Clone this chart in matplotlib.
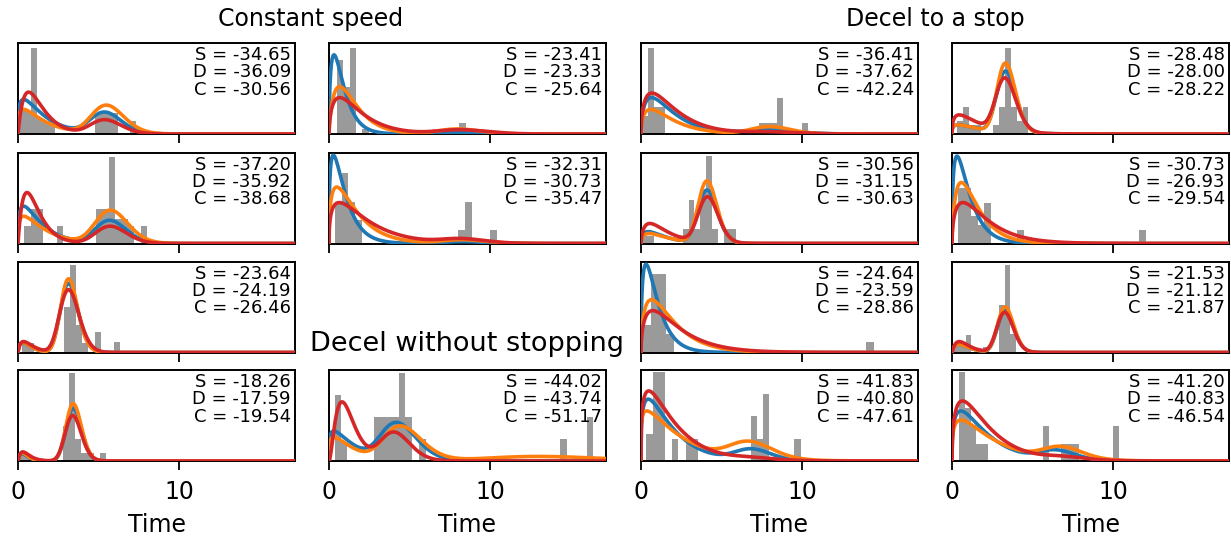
import numpy as np
import matplotlib.pyplot as plt

# grid position (row, col) of each drawn panel; (2, 1) stays empty
panels = [(0, 0), (0, 1), (0, 2), (0, 3),
          (1, 0), (1, 1), (1, 2), (1, 3),
          (2, 0), (2, 2), (2, 3),
          (3, 0), (3, 1), (3, 2), (3, 3)]

scores = [(-34.65, -36.09, -30.56), (-23.41, -23.33, -25.64),
          (-36.41, -37.62, -42.24), (-28.48, -28.00, -28.22),
          (-37.20, -35.92, -38.68), (-32.31, -30.73, -35.47),
          (-30.56, -31.15, -30.63), (-30.73, -26.93, -29.54),
          (-23.64, -24.19, -26.46),
          (-24.64, -23.59, -28.86), (-21.53, -21.12, -21.87),
          (-18.26, -17.59, -19.54), (-44.02, -43.74, -51.17),
          (-41.83, -40.80, -47.61), (-41.20, -40.83, -46.54)]

# histogram (heights as fraction of the panel height)
bin_width = [0.36, 0.40, 0.37, 0.37,
             0.40, 0.41, 0.37, 0.41,
             0.37, 0.48, 0.36,
             0.38, 0.39, 0.39, 0.37]
bar_left = [
    [0.11, 0.47, 0.83, 1.19, 1.55, 1.91, 4.79, 5.15, 5.51, 5.87, 6.95],
    [0.48, 0.88, 1.28, 2.08, 8.08],
    [0.04, 0.41, 0.78, 1.15, 7.34, 7.71, 8.08, 8.45, 10.0],
    [0.31, 0.68, 1.05, 1.42, 2.53, 2.90, 3.27, 3.64, 4.01, 4.38],
    [0.38, 0.78, 1.18, 2.42, 4.82, 5.22, 5.62, 6.02, 6.42, 6.82, 7.62],
    [0.38, 0.79, 1.20, 1.61, 8.03, 8.44, 10.0],
    [0.07, 0.44, 2.58, 2.95, 3.32, 3.69, 4.06, 4.43, 5.17, 5.54],
    [0.37, 0.78, 1.19, 1.60, 2.01, 4.04, 11.63],
    [0.25, 0.62, 2.87, 3.24, 3.61, 3.98, 4.79, 5.97],
    [0.12, 0.60, 1.08, 1.56, 13.98],
    [0.13, 0.49, 0.85, 1.93, 2.91, 3.27, 3.63],
    [0.13, 0.51, 2.79, 3.17, 3.55, 3.93, 4.31, 5.07],
    [0.36, 0.75, 2.79, 3.18, 3.57, 3.96, 4.35, 4.74, 5.61, 14.37, 15.99],
    [0.34, 0.73, 1.12, 1.90, 2.78, 3.17, 6.80, 7.19, 7.58, 9.53],
    [0.41, 0.78, 1.15, 1.52, 1.89, 5.66, 6.77, 7.14, 7.51, 10.0],
]
bar_height = [
    [0.25, 0.25, 0.945, 0.16, 0.14, 0.14, 0.23, 0.23, 0.23, 0.23, 0.14],
    [0.81, 0.52, 0.945, 0.05, 0.12],
    [0.20, 0.945, 0.30, 0.30, 0.12, 0.12, 0.12, 0.40, 0.12],
    [0.14, 0.30, 0.10, 0.10, 0.10, 0.30, 0.945, 0.30, 0.14, 0.30],
    [0.19, 0.38, 0.38, 0.19, 0.38, 0.38, 0.95, 0.27, 0.27, 0.19, 0.19],
    [0.46, 0.77, 0.46, 0.26, 0.15, 0.46, 0.15],
    [0.08, 0.08, 0.16, 0.48, 0.16, 0.55, 0.96, 0.16, 0.16, 0.16],
    [0.61, 0.61, 0.30, 0.20, 0.45, 0.15, 0.15],
    [0.10, 0.10, 0.50, 0.96, 0.30, 0.10, 0.23, 0.11],
    [0.30, 0.86, 0.86, 0.20, 0.11],
    [0.08, 0.08, 0.19, 0.06, 0.52, 0.96, 0.20],
    [0.07, 0.07, 0.39, 0.97, 0.24, 0.09, 0.09, 0.09],
    [0.73, 0.20, 0.48, 0.48, 0.48, 0.48, 0.97, 0.48, 0.24, 0.24, 0.48],
    [0.30, 0.98, 0.98, 0.24, 0.24, 0.24, 0.49, 0.24, 0.74, 0.24],
    [0.98, 0.58, 0.40, 0.19, 0.19, 0.39, 0.19, 0.19, 0.19, 0.39],
]

# fitted densities: components (mode, shape, peak height)
blue_parts = [
    [(0.35, 0.3, 0.38), (5.4, 32, 0.23)],
    [(0.31, 0.58, 0.87), (8.2, 40, 0.02)],
    [(0.65, 0.55, 0.40), (8.0, 28, 0.04)],
    [(0.40, 0.3, 0.10), (3.33, 31, 0.67)],
    [(0.35, 0.35, 0.41), (5.7, 36, 0.25)],
    [(0.27, 0.4, 0.97), (8.3, 40, 0.02)],
    [(0.45, 0.5, 0.13), (4.1, 47, 0.58)],
    [(0.31, 0.45, 0.96)],
    [(0.30, 0.8, 0.11), (3.14, 33, 0.76)],
    [(0.31, 0.48, 0.97)],
    [(0.40, 0.8, 0.09), (3.3, 44, 0.46)],
    [(0.25, 1.0, 0.08), (3.43, 51, 0.58)],
    [(0.30, 0.25, 0.33), (4.23, 15, 0.40)],
    [(0.45, 0.33, 0.68), (6.9, 39, 0.12)],
    [(0.55, 0.38, 0.55), (6.5, 35, 0.10)],
]
orange_parts = [
    [(0.35, 0.3, 0.27), (5.5, 30, 0.31)],
    [(0.66, 0.8, 0.52), (8.0, 38, 0.055)],
    [(0.60, 0.5, 0.27), (8.0, 44, 0.08)],
    [(0.40, 0.3, 0.10), (3.33, 34, 0.76)],
    [(0.35, 0.3, 0.30), (5.75, 33, 0.36)],
    [(0.48, 0.43, 0.62), (8.3, 40, 0.04)],
    [(0.50, 0.5, 0.11), (4.1, 50, 0.68)],
    [(0.58, 0.69, 0.67)],
    [(0.30, 0.8, 0.11), (3.14, 35, 0.81)],
    [(0.65, 0.54, 0.58)],
    [(0.40, 0.8, 0.09), (3.3, 44, 0.50)],
    [(0.25, 1.0, 0.09), (3.43, 51, 0.63)],
    [(0.30, 0.25, 0.26), (4.48, 15, 0.37), (13.0, 14, 0.05)],
    [(0.36, 0.18, 0.55), (6.78, 27, 0.18)],
    [(0.55, 0.3, 0.45), (6.83, 32, 0.13)],
]
red_parts = [
    [(0.66, 1.0, 0.46), (5.4, 32, 0.155)],
    [(0.66, 0.57, 0.40), (8.2, 30, 0.045)],
    [(0.68, 0.52, 0.45), (8.0, 28, 0.02)],
    [(0.45, 0.4, 0.21), (3.3, 28, 0.58)],
    [(0.56, 1.0, 0.56), (5.72, 36, 0.19)],
    [(0.64, 0.4, 0.45), (8.3, 40, 0.045)],
    [(0.55, 0.6, 0.22), (4.14, 45, 0.50)],
    [(0.68, 0.52, 0.45)],
    [(0.35, 0.8, 0.12), (3.14, 27, 0.69)],
    [(0.73, 0.5, 0.46)],
    [(0.45, 1.0, 0.12), (3.27, 40, 0.44)],
    [(0.30, 1.0, 0.10), (3.4, 46, 0.50)],
    [(0.81, 1.8, 0.65), (4.05, 20, 0.31)],
    [(0.48, 0.32, 0.77), (7.0, 30, 0.02)],
    [(0.65, 0.45, 0.66), (7.0, 30, 0.03)],
]

group_titles = ['Constant speed', 'Decel to a stop', 'Decel without stopping']
x_max = 17.2


def density(x, parts):
    y = np.zeros_like(x)
    for mode, k, h in parts:
        r = x[1:] / mode
        y[1:] += h * np.exp(k * (np.log(r) - (r - 1)))
    return y


W, H = 1231, 537
fig = plt.figure(figsize=(W / 100, H / 100), dpi=100)

col_left = [18, 329, 641, 952]
row_bottom = [134, 243.5, 352.5, 461]
pw, ph = 277, 91

x = np.linspace(0, x_max, 800)
for n, (r, c) in enumerate(panels):
    ax = fig.add_axes([col_left[c] / W, (H - row_bottom[r]) / H, pw / W, ph / H])
    ax.bar(bar_left[n], bar_height[n], width=bin_width[n], align='edge',
           color='#9a9a9a', linewidth=0)
    for parts, col in [(blue_parts[n], '#1f77b4'),
                       (orange_parts[n], '#ff7f0e'),
                       (red_parts[n], '#d62728')]:
        ax.plot(x, density(x, parts), color=col, lw=2.6, zorder=3,
                solid_capstyle='round')
    ax.set_xlim(0, x_max)
    ax.set_ylim(0, 1)
    ax.set_yticks([])
    ax.set_xticks([0, 10])
    ax.tick_params(axis='x', length=6.5, width=1.3, pad=7.5, labelsize=17)
    for sp in ax.spines.values():
        sp.set_linewidth(1.4)
    s, d, cc = scores[n]
    ax.text(0.985, 0.965, f'S = {s:.2f}\nD = {d:.2f}\nC = {cc:.2f}',
            transform=ax.transAxes, ha='right', va='top', ma='right',
            fontsize=13, linespacing=0.95, zorder=4)
    if r == 3:
        ax.set_xlabel('Time', fontsize=17, labelpad=6)
    else:
        ax.set_xticklabels([])

fig.text(311 / W, 1 - 19 / H, group_titles[0], ha='center', va='center',
         fontsize=17)
fig.text(935 / W, 1 - 19 / H, group_titles[1], ha='center', va='center',
         fontsize=17)
fig.text(467.5 / W, 1 - 344 / H, group_titles[2], ha='center', va='center',
         fontsize=19.5)

fig.savefig('out.png', dpi=100)
